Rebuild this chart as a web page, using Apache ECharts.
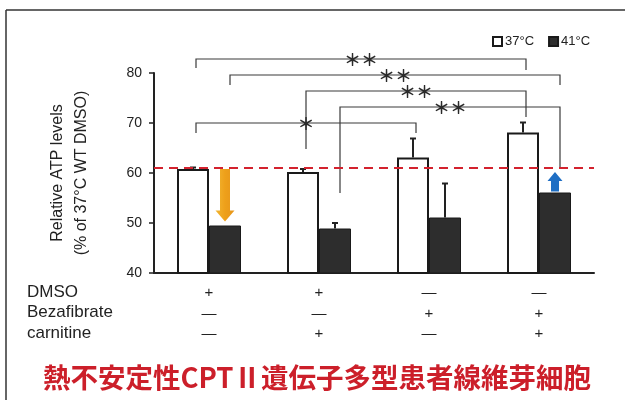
<!DOCTYPE html>
<html><head><meta charset="utf-8">
<script src="https://cdn.jsdelivr.net/npm/echarts@6/dist/echarts.min.js"></script>
<style>html,body{margin:0;padding:0;background:#fff}#c{width:625px;height:400px}</style>
</head><body><div id="c"></div>
<script>
// ---- data ----
const categories = ['DMSO', 'DMSO + carnitine', 'Bezafibrate', 'Bezafibrate + carnitine'];
const temp37 = [60.8, 60.2, 63.1, 68.1];
const temp37Err = [0.3, 0.6, 3.8, 2.0];
const temp41 = [49.5, 48.9, 51.1, 56.1];
const temp41Err = [0, 1.1, 6.8, 0];
const baseline = 61;
const yTicks = [40, 50, 60, 70, 80];
const rowNames = ['DMSO', 'Bezafibrate', 'carnitine'];
const dmsoRow = ['+', '+', '—', '—'];
const bezaRow = ['—', '—', '+', '+'];
const carnRow = ['—', '+', '—', '+'];
// significance brackets: [fromCategory, fromSeries, toCategory, toSeries, barLevel, leftEnd, rightEnd]
const brackets = [
  [0, 0, 3, 0, 82.8, 81.0, 80.6],
  [0, 1, 3, 1, 79.6, 77.6, 77.6],
  [1, 0, 3, 0, 76.4, 64.8, 71.2],
  [1, 1, 3, 1, 73.2, 56.0, 61.0],
  [0, 0, 2, 0, 70.0, 68.0, 68.0]
];
const bracketStars = ['＊＊', '＊＊', '＊＊', '＊＊', '＊'];
const arrowCats = [0, 3];
const seriesNames = ['37°C', '41°C'];

// ---- chart ----
const FONT = '"Liberation Sans", Arial, sans-serif';
const BAR_W = 32;
const chart = echarts.init(document.getElementById('c'), null, {renderer: 'canvas'});

function errRender(offset) {
  return function (params, api) {
    const c = api.value(0), v = api.value(1), e = api.value(2);
    if (!e) return null;
    const p0 = api.coord([c, v]);
    const p1 = api.coord([c, v + e]);
    const x = p0[0] + offset;
    return {type: 'group', children: [
      {type: 'line', shape: {x1: x, y1: p0[1], x2: x, y2: p1[1]}, style: {stroke: '#222', lineWidth: 2}},
      {type: 'line', shape: {x1: x - 3, y1: p1[1], x2: x + 3, y2: p1[1]}, style: {stroke: '#222', lineWidth: 2}}
    ]};
  };
}

const legOffsets = [-13, 21];
function bracketRender(params, api) {
  const i = params.dataIndex;
  const xa = api.coord([api.value(0), 50])[0] + legOffsets[api.value(1)];
  const xb = api.coord([api.value(2), 50])[0] + legOffsets[api.value(3)];
  const yl = api.coord([0, api.value(4)])[1];
  const ya = api.coord([0, api.value(5)])[1];
  const yb = api.coord([0, api.value(6)])[1];
  return {type: 'group', children: [
    {type: 'polyline', shape: {points: [[xa, ya], [xa, yl], [xb, yl], [xb, yb]]},
      style: {stroke: '#3a3a3a', lineWidth: 1.2, fill: null}},
    {type: 'text', x: (xa + xb) / 2, y: yl + 1,
      style: {text: bracketStars[i], align: 'center', verticalAlign: 'middle',
        font: 'bold 17px "Noto Sans CJK JP"', fill: '#2a2a2a'}}
  ]};
}

const arrowStyles = [
  {fill: new echarts.graphic.LinearGradient(0, 0, 1, 0, [
    {offset: 0, color: '#f2b632'}, {offset: 0.5, color: '#eea01a'}, {offset: 1, color: '#e6951a'}]),
   shaft: 5, head: 9.5, len: 11},
  {fill: '#1f6fc4', shaft: 4, head: 7.5, len: 9}
];
function arrowRender(params, api) {
  const s = arrowStyles[params.dataIndex];
  const c = api.value(0);
  const pa = api.coord([c, api.value(1)]);
  const pb = api.coord([c, api.value(2)]);
  const x = pa[0] + BAR_W / 2;
  const dir = pb[1] > pa[1] ? 1 : -1;
  const yStart = pa[1] + dir * 1;
  const yTip = pb[1] - dir * 4;
  const yNeck = yTip - dir * s.len;
  return {type: 'polygon', shape: {points: [
    [x - s.shaft, yStart], [x + s.shaft, yStart], [x + s.shaft, yNeck], [x + s.head, yNeck],
    [x, yTip], [x - s.head, yNeck], [x - s.shaft, yNeck]
  ]}, style: {fill: s.fill}};
}

const option = {
  animation: false,
  backgroundColor: '#fff',
  grid: {left: 154, top: 73, width: 440, height: 200, containLabel: false},
  legend: {
    left: 492, top: 35, padding: 0, itemWidth: 9, itemHeight: 9, itemGap: 14,
    icon: 'rect', data: seriesNames,
    textStyle: {fontSize: 13, color: '#222', fontFamily: FONT, padding: [0, 0, 0, -2]}
  },
  xAxis: {
    type: 'category', data: categories,
    axisLine: {lineStyle: {color: '#222', width: 2}},
    axisTick: {show: false},
    axisLabel: {
      margin: 10, interval: 0, lineHeight: 20.5, fontSize: 15, color: '#222', fontFamily: FONT,
      formatter: function (v, idx) { return dmsoRow[idx] + '\n' + bezaRow[idx] + '\n' + carnRow[idx]; }
    }
  },
  yAxis: {
    type: 'value', min: yTicks[0], max: yTicks[yTicks.length - 1], interval: 10,
    name: 'Relative ATP levels\n(% of 37°C WT DMSO)',
    nameLocation: 'middle', nameRotate: 90, nameGap: 60,
    nameTextStyle: {fontSize: 16, lineHeight: 24, color: '#222', fontFamily: FONT},
    axisLine: {show: true, lineStyle: {color: '#222', width: 2}},
    axisTick: {show: true, length: 5, lineStyle: {color: '#222', width: 1.5}},
    axisLabel: {fontSize: 14, color: '#222', margin: 12, fontFamily: FONT},
    splitLine: {show: false}
  },
  series: [
    {name: seriesNames[0], type: 'bar', data: temp37, barWidth: BAR_W, barGap: '0%',
      itemStyle: {color: '#fff', borderColor: '#1a1a1a', borderWidth: 2}, z: 2,
      markLine: {symbol: 'none', silent: true, label: {show: false},
        lineStyle: {color: '#d3222e', width: 2, type: [9, 6]},
        data: [{yAxis: baseline}]}},
    {name: seriesNames[1], type: 'bar', data: temp41, barWidth: BAR_W,
      itemStyle: {color: '#2d2d2d', borderColor: '#1a1a1a', borderWidth: 1}, z: 2},
    {type: 'custom', renderItem: errRender(-BAR_W / 2), z: 3,
      data: temp37.map((v, i) => [i, v, temp37Err[i]])},
    {type: 'custom', renderItem: errRender(BAR_W / 2), z: 3,
      data: temp41.map((v, i) => [i, v, temp41Err[i]])},
    {type: 'custom', renderItem: bracketRender, z: 4, data: brackets},
    {type: 'custom', renderItem: arrowRender, z: 6,
      data: arrowCats.map(function (c, k) {
        return k === 0 ? [c, baseline, temp41[c]] : [c, temp41[c], baseline];
      })}
  ],
  graphic: [
    {type: 'line', shape: {x1: 6, y1: 10, x2: 625, y2: 10}, style: {stroke: '#333', lineWidth: 1.5}},
    {type: 'line', shape: {x1: 6, y1: 10, x2: 6, y2: 400}, style: {stroke: '#333', lineWidth: 1.5}},
    {type: 'text', left: 27, top: 284, style: {text: rowNames[0], font: '17px ' + FONT, fill: '#222'}},
    {type: 'text', left: 27, top: 304, style: {text: rowNames[1], font: '17px ' + FONT, fill: '#222'}},
    {type: 'text', left: 27, top: 325, style: {text: rowNames[2], font: '17px ' + FONT, fill: '#222'}},
    {type: 'text', x: 317, y: 378, style: {text: '熱不安定性CPTⅡ遺伝子多型患者線維芽細胞',
      align: 'center', verticalAlign: 'middle',
      font: 'bold 27.5px "Noto Sans CJK JP"', fill: '#cc1f2a'}}
  ]
};
chart.setOption(option);
</script>
</body></html>
